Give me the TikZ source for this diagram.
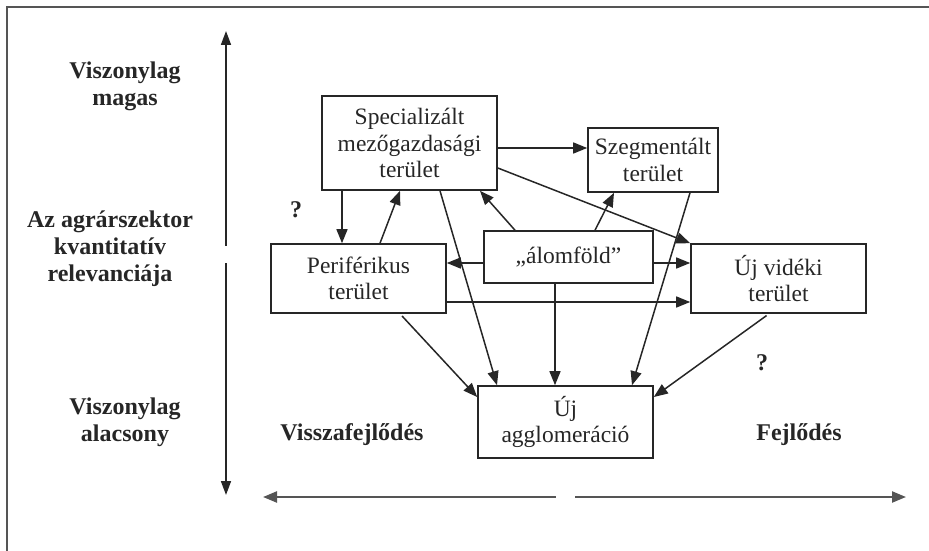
\documentclass[tikz,border=0pt]{standalone}
\usepackage{fontspec}
\setmainfont{Liberation Serif}
\usetikzlibrary{arrows.meta}
\definecolor{ink}{HTML}{262626}
\definecolor{axisgray}{HTML}{555555}
\begin{document}
\begin{tikzpicture}[x=1pt,y=-1pt,
  area/.style={draw=ink, line width=1.6pt, align=center, inner sep=0pt,
    minimum width=175pt, text=ink,
    font=\fontsize{23.5}{26.5}\selectfont},
  lbl/.style={align=center, text=ink, inner sep=0pt,
    font=\bfseries\fontsize{24}{27}\selectfont},
  flow/.style={draw=ink, line width=1.5pt,
    -{Triangle[length=14pt,width=11pt]}},
  axis/.style={draw=ink, line width=1.7pt}]
  \useasboundingbox (0,0) rectangle (929,551);

  % frame (top and left edges)
  \coordinate (fbl) at (6.5,551);
  \coordinate (ftl) at (6.5,7.5);
  \coordinate (ftr) at (929,7.5);
  \draw[draw=axisgray, line width=2pt] (fbl) -- (ftl) -- (ftr);

  % vertical axis: relevance of the agrarian sector
  \coordinate (vtop) at (226,31);
  \coordinate (vbrk1) at (226,246);
  \coordinate (vbrk2) at (226,263);
  \coordinate (vbot) at (226,495);
  \draw[axis, {Triangle[length=14pt,width=10pt]}-] (vtop) -- (vbrk1);
  \draw[axis, -{Triangle[length=14pt,width=10pt]}] (vbrk2) -- (vbot);

  % horizontal axis: decline / development
  \coordinate (hleft) at (263,497);
  \coordinate (hbrk1) at (556,497);
  \coordinate (hbrk2) at (575,497);
  \coordinate (hright) at (906,497);
  \draw[draw=axisgray, line width=2.2pt, {Triangle[length=14pt,width=11pt]}-] (hleft) -- (hbrk1);
  \draw[draw=axisgray, line width=2.2pt, -{Triangle[length=14pt,width=11pt]}] (hbrk2) -- (hright);

  % axis labels
  \node[lbl] (high) at (125,86) {Viszonylag\\magas};
  \node[lbl] (relev) at (110,249) {Az agrárszektor\\kvantitatív\\relevanciája};
  \node[lbl] (low) at (125,422) {Viszonylag\\alacsony};
  \node[lbl] (decl) at (352,435) {Visszafejlődés};
  \node[lbl] (devel) at (799,435) {Fejlődés};
  \node[lbl] (q1) at (296,210) {?};
  \node[lbl] (q2) at (762,363) {?};

  % areas
  \node[area, minimum height=94pt] (spec) at (409.5,143) {Specializált\\mezőgazdasági\\terület};
  \node[area, minimum width=130pt, minimum height=64pt] (szeg) at (653,160) {Szegmentált\\terület};
  \node[area, minimum width=169pt, minimum height=52pt] (alom) at (568.5,257) {\raisebox{3pt}{„álomföld”}};
  \node[area, minimum height=69pt] (peri) at (358.5,278.5) {Periférikus\\terület};
  \node[area, minimum height=69pt] (ujvid) at (778.5,278.5) {Új vidéki\\terület};
  \node[area, minimum height=72pt] (agglo) at (565.5,422) {Új\\agglomeráció};

  % transitions
  \draw[flow] (spec.east |- 0,148) -- (szeg.west |- 0,148);
  \draw[flow] (342,0 |- spec.south) -- (342,0 |- peri.north);
  \draw[flow] (380,0 |- peri.north) -- (400,0 |- spec.south);
  \draw[flow] (515,0 |- alom.north) -- (480,0 |- spec.south);
  \draw[flow] (595,0 |- alom.north) -- (614,0 |- szeg.south);
  \draw[flow] (spec.east |- 0,168) -- (ujvid.north west);
  \draw[flow] (690,0 |- szeg.south) -- (632,0 |- agglo.north);
  \draw[flow] (440,0 |- spec.south) -- (497,0 |- agglo.north);
  \draw[flow] (alom.west |- 0,263) -- (peri.east |- 0,263);
  \draw[flow] (alom.east |- 0,263) -- (ujvid.west |- 0,263);
  \draw[flow] (peri.east |- 0,302) -- (ujvid.west |- 0,302);
  \draw[flow] (555,0 |- alom.south) -- (555,0 |- agglo.north);
  \draw[flow, shorten <=3pt] (400,0 |- peri.south) -- (agglo.west |- 0,397);
  \draw[flow, shorten <=3pt] (769,0 |- ujvid.south) -- (agglo.east |- 0,397);
\end{tikzpicture}
\end{document}
